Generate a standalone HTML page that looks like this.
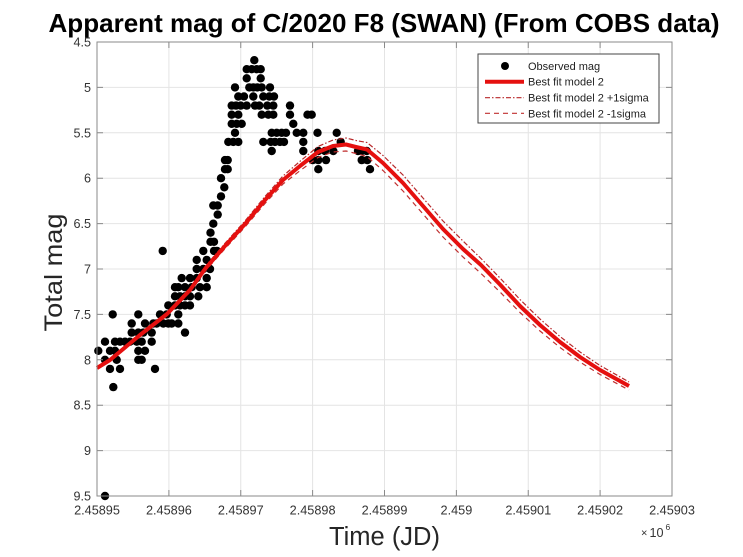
<!DOCTYPE html>
<html><head><meta charset="utf-8"><style>
html,body{margin:0;padding:0;background:#fff}
svg{display:block}
text{font-family:"Liberation Sans",Arial,sans-serif}
</style></head><body>
<svg width="743" height="557" viewBox="0 0 743 557" xmlns="http://www.w3.org/2000/svg">
<rect width="743" height="557" fill="#fff"/>
<!-- grid -->
<g stroke="#e4e4e4" stroke-width="1">
<line x1="168.9" y1="42" x2="168.9" y2="496"/><line x1="240.75" y1="42" x2="240.75" y2="496"/>
<line x1="312.6" y1="42" x2="312.6" y2="496"/><line x1="384.5" y1="42" x2="384.5" y2="496"/>
<line x1="456.4" y1="42" x2="456.4" y2="496"/><line x1="528.25" y1="42" x2="528.25" y2="496"/>
<line x1="600.1" y1="42" x2="600.1" y2="496"/>
<line x1="97" y1="87.4" x2="672" y2="87.4"/><line x1="97" y1="132.8" x2="672" y2="132.8"/>
<line x1="97" y1="178.2" x2="672" y2="178.2"/><line x1="97" y1="223.6" x2="672" y2="223.6"/>
<line x1="97" y1="269" x2="672" y2="269"/><line x1="97" y1="314.4" x2="672" y2="314.4"/>
<line x1="97" y1="359.8" x2="672" y2="359.8"/><line x1="97" y1="405.2" x2="672" y2="405.2"/>
<line x1="97" y1="450.6" x2="672" y2="450.6"/>
</g>
<!-- dots -->
<g fill="#000">
<circle cx="254.3" cy="60.2" r="4.2"/>
<circle cx="246.7" cy="69.2" r="4.2"/><circle cx="251.7" cy="69.2" r="4.2"/><circle cx="256.7" cy="69.2" r="4.2"/><circle cx="260.7" cy="69.2" r="4.2"/>
<circle cx="246.7" cy="78.3" r="4.2"/><circle cx="260.7" cy="78.3" r="4.2"/>
<circle cx="235" cy="87.4" r="4.2"/><circle cx="249.3" cy="87.4" r="4.2"/><circle cx="253.3" cy="87.4" r="4.2"/><circle cx="257.3" cy="87.4" r="4.2"/><circle cx="261.7" cy="87.4" r="4.2"/><circle cx="270" cy="87.4" r="4.2"/>
<circle cx="238.3" cy="96.5" r="4.2"/><circle cx="244" cy="96.5" r="4.2"/><circle cx="253.3" cy="96.5" r="4.2"/><circle cx="263.3" cy="96.5" r="4.2"/><circle cx="269.3" cy="96.5" r="4.2"/><circle cx="274" cy="96.5" r="4.2"/>
<circle cx="231.7" cy="105.6" r="4.2"/><circle cx="236" cy="105.6" r="4.2"/><circle cx="240.7" cy="105.6" r="4.2"/><circle cx="246.7" cy="105.6" r="4.2"/><circle cx="255" cy="105.6" r="4.2"/><circle cx="259.3" cy="105.6" r="4.2"/><circle cx="267.3" cy="105.6" r="4.2"/><circle cx="273.3" cy="105.6" r="4.2"/><circle cx="290" cy="105.6" r="4.2"/>
<circle cx="231.7" cy="114.7" r="4.2"/><circle cx="238.3" cy="114.7" r="4.2"/><circle cx="261.7" cy="114.7" r="4.2"/><circle cx="268.3" cy="114.7" r="4.2"/><circle cx="273.3" cy="114.7" r="4.2"/><circle cx="290" cy="114.7" r="4.2"/><circle cx="307.5" cy="114.7" r="4.2"/><circle cx="311.7" cy="114.7" r="4.2"/>
<circle cx="231.7" cy="123.8" r="4.2"/><circle cx="236.7" cy="123.8" r="4.2"/><circle cx="241.7" cy="123.8" r="4.2"/><circle cx="293.3" cy="123.8" r="4.2"/>
<circle cx="235" cy="132.8" r="4.2"/><circle cx="271.7" cy="132.8" r="4.2"/><circle cx="276.7" cy="132.8" r="4.2"/><circle cx="281.7" cy="132.8" r="4.2"/><circle cx="286" cy="132.8" r="4.2"/><circle cx="296.7" cy="132.8" r="4.2"/><circle cx="303.3" cy="132.8" r="4.2"/><circle cx="317.5" cy="132.8" r="4.2"/><circle cx="336.7" cy="132.8" r="4.2"/>
<circle cx="228.3" cy="141.9" r="4.2"/><circle cx="233.3" cy="141.9" r="4.2"/><circle cx="238.3" cy="141.9" r="4.2"/><circle cx="263.3" cy="141.9" r="4.2"/><circle cx="270.7" cy="141.9" r="4.2"/><circle cx="275" cy="141.9" r="4.2"/><circle cx="280" cy="141.9" r="4.2"/><circle cx="284" cy="141.9" r="4.2"/><circle cx="303.3" cy="141.9" r="4.2"/><circle cx="340.7" cy="141.9" r="4.2"/>
<circle cx="271.7" cy="151" r="4.2"/><circle cx="303.3" cy="151" r="4.2"/><circle cx="318.3" cy="151" r="4.2"/><circle cx="325" cy="151" r="4.2"/><circle cx="333.3" cy="151" r="4.2"/><circle cx="358" cy="151" r="4.2"/><circle cx="361.7" cy="151" r="4.2"/><circle cx="366.7" cy="151" r="4.2"/>
<circle cx="225" cy="160.1" r="4.2"/><circle cx="227.7" cy="160.1" r="4.2"/><circle cx="312.7" cy="160.1" r="4.2"/><circle cx="318.3" cy="160.1" r="4.2"/><circle cx="326" cy="160.1" r="4.2"/><circle cx="361.7" cy="160.1" r="4.2"/><circle cx="367.3" cy="160.1" r="4.2"/>
<circle cx="225" cy="169.2" r="4.2"/><circle cx="227.7" cy="169.2" r="4.2"/><circle cx="318.3" cy="169.2" r="4.2"/><circle cx="370" cy="169.2" r="4.2"/>
<circle cx="221" cy="178.2" r="4.2"/>
<circle cx="224.3" cy="187.3" r="4.2"/>
<circle cx="221" cy="196.4" r="4.2"/>
<circle cx="213.3" cy="205.5" r="4.2"/><circle cx="217.7" cy="205.5" r="4.2"/>
<circle cx="217.7" cy="214.6" r="4.2"/>
<circle cx="213.3" cy="223.7" r="4.2"/>
<circle cx="210.5" cy="232.7" r="4.2"/>
<circle cx="210.5" cy="241.8" r="4.2"/><circle cx="214" cy="241.8" r="4.2"/>
<circle cx="162.7" cy="250.9" r="4.2"/><circle cx="203.3" cy="250.9" r="4.2"/><circle cx="214" cy="250.9" r="4.2"/><circle cx="217" cy="250.9" r="4.2"/>
<circle cx="196.7" cy="259.9" r="4.2"/><circle cx="206.7" cy="259.9" r="4.2"/>
<circle cx="196.7" cy="269" r="4.2"/><circle cx="203.3" cy="269" r="4.2"/><circle cx="210" cy="269" r="4.2"/>
<circle cx="181.7" cy="278.1" r="4.2"/><circle cx="190" cy="278.1" r="4.2"/><circle cx="196.7" cy="278.1" r="4.2"/><circle cx="206.7" cy="278.1" r="4.2"/>
<circle cx="175" cy="287.2" r="4.2"/><circle cx="178.3" cy="287.2" r="4.2"/><circle cx="185" cy="287.2" r="4.2"/><circle cx="191.7" cy="287.2" r="4.2"/><circle cx="200" cy="287.2" r="4.2"/><circle cx="206.7" cy="287.2" r="4.2"/>
<circle cx="175" cy="296.3" r="4.2"/><circle cx="180" cy="296.3" r="4.2"/><circle cx="185" cy="296.3" r="4.2"/><circle cx="190" cy="296.3" r="4.2"/><circle cx="198.3" cy="296.3" r="4.2"/>
<circle cx="168.3" cy="305.4" r="4.2"/><circle cx="175" cy="305.4" r="4.2"/><circle cx="180" cy="305.4" r="4.2"/><circle cx="185" cy="305.4" r="4.2"/><circle cx="190" cy="305.4" r="4.2"/>
<circle cx="112.7" cy="314.4" r="4.2"/><circle cx="138.3" cy="314.4" r="4.2"/><circle cx="160" cy="314.4" r="4.2"/><circle cx="166.7" cy="314.4" r="4.2"/><circle cx="178.3" cy="314.4" r="4.2"/>
<circle cx="131.7" cy="323.5" r="4.2"/><circle cx="145" cy="323.5" r="4.2"/><circle cx="153.3" cy="323.5" r="4.2"/><circle cx="156.7" cy="323.5" r="4.2"/><circle cx="163.3" cy="323.5" r="4.2"/><circle cx="168.3" cy="323.5" r="4.2"/><circle cx="171.7" cy="323.5" r="4.2"/><circle cx="178.3" cy="323.5" r="4.2"/>
<circle cx="131.7" cy="332.6" r="4.2"/><circle cx="138.3" cy="332.6" r="4.2"/><circle cx="143.3" cy="332.6" r="4.2"/><circle cx="151.7" cy="332.6" r="4.2"/><circle cx="185" cy="332.6" r="4.2"/>
<circle cx="105" cy="341.7" r="4.2"/><circle cx="115" cy="341.7" r="4.2"/><circle cx="120" cy="341.7" r="4.2"/><circle cx="125" cy="341.7" r="4.2"/><circle cx="130" cy="341.7" r="4.2"/><circle cx="136.7" cy="341.7" r="4.2"/><circle cx="141.7" cy="341.7" r="4.2"/><circle cx="151.7" cy="341.7" r="4.2"/>
<circle cx="98.3" cy="350.8" r="4.2"/><circle cx="110" cy="350.8" r="4.2"/><circle cx="115" cy="350.8" r="4.2"/><circle cx="138.3" cy="350.8" r="4.2"/><circle cx="145" cy="350.8" r="4.2"/>
<circle cx="105" cy="359.8" r="4.2"/><circle cx="116.7" cy="359.8" r="4.2"/><circle cx="138.3" cy="359.8" r="4.2"/><circle cx="141.7" cy="359.8" r="4.2"/>
<circle cx="110" cy="368.9" r="4.2"/><circle cx="120" cy="368.9" r="4.2"/><circle cx="155" cy="368.9" r="4.2"/>
<circle cx="113.3" cy="387.1" r="4.2"/>
<circle cx="105" cy="496" r="4.2"/>
</g>
<!-- fit curves -->
<polyline fill="none" stroke="#b8282a" stroke-width="1.2" stroke-dasharray="5,2,1.5,2" stroke-linejoin="round" points="97,367.5 110,359.3 140,334 167,312.5 190,288 205,266.7 225,243.3 245,221 265,196.5 283,176 300,161.3 318,146.5 333,140 346,138 356,140.5 367,142.5 383,155.5 403,175 423,198 443,221 463,241 481,258.5 500,278 520,299.5 540,319 560,336.5 580,352 600,365.5 629,382"/>
<polyline fill="none" stroke="#c03030" stroke-width="1.2" stroke-dasharray="5,4" stroke-linejoin="round" points="97,368.5 110,360.7 140,336 167,315.5 190,292 205,271.3 225,248.7 245,227 265,203.5 283,184 300,170.7 318,157.5 333,152 346,151 356,153.5 367,156.5 383,170.5 403,191 423,214 443,237 463,257 481,273.5 500,292 520,312.5 540,331 560,347.5 580,362 600,374.5 629,390"/>
<polyline fill="none" stroke="#e5100f" stroke-width="4" stroke-linejoin="round" points="97,368 110,360 140,335 167,314 190,290 205,269 225,246 245,224 265,200 283,180 300,166 318,152 333,146 346,144.5 356,147 367,149.5 383,163 403,183 423,206 443,229 463,249 481,265 500,284.5 520,306 540,325 560,342 580,357 600,370 629,386"/>
<!-- axes box -->
<rect x="97" y="42" width="575" height="454" fill="none" stroke="#8a8a8a" stroke-width="1"/>
<g stroke="#8a8a8a" stroke-width="1">
<path d="M97 42h6M97 87.4h6M97 132.8h6M97 178.2h6M97 223.6h6M97 269h6M97 314.4h6M97 359.8h6M97 405.2h6M97 450.6h6M97 496h6"/>
<path d="M672 42h-6M672 87.4h-6M672 132.8h-6M672 178.2h-6M672 223.6h-6M672 269h-6M672 314.4h-6M672 359.8h-6M672 405.2h-6M672 450.6h-6M672 496h-6"/>
<path d="M97 496v-6M168.9 496v-6M240.75 496v-6M312.6 496v-6M384.5 496v-6M456.4 496v-6M528.25 496v-6M600.1 496v-6M672 496v-6"/>
<path d="M97 42v6M168.9 42v6M240.75 42v6M312.6 42v6M384.5 42v6M456.4 42v6M528.25 42v6M600.1 42v6M672 42v6"/>
</g>
<!-- y tick labels -->
<g font-size="12.6" fill="#333" text-anchor="end">
<text x="91" y="46.5">4.5</text><text x="91" y="91.9">5</text><text x="91" y="137.3">5.5</text>
<text x="91" y="182.7">6</text><text x="91" y="228.1">6.5</text><text x="91" y="273.5">7</text>
<text x="91" y="318.9">7.5</text><text x="91" y="364.3">8</text><text x="91" y="409.7">8.5</text>
<text x="91" y="455.1">9</text><text x="91" y="500.5">9.5</text>
</g>
<!-- x tick labels -->
<g font-size="12.7" fill="#333" text-anchor="middle">
<text x="97" y="514.3">2.45895</text><text x="168.9" y="514.3">2.45896</text><text x="240.75" y="514.3">2.45897</text>
<text x="312.6" y="514.3">2.45898</text><text x="384.5" y="514.3">2.45899</text><text x="456.4" y="514.3">2.459</text>
<text x="528.25" y="514.3">2.45901</text><text x="600.1" y="514.3">2.45902</text><text x="672" y="514.3">2.45903</text>
</g>
<text x="641" y="536.5" font-size="11" fill="#333">×</text>
<text x="649.5" y="537" font-size="12.6" fill="#333">10</text>
<text x="665.5" y="530" font-size="8.5" fill="#333">6</text>
<!-- axis labels -->
<text x="384.5" y="545" font-size="25.5" fill="#262626" text-anchor="middle">Time (JD)</text>
<text transform="translate(62,272.5) rotate(-90)" x="0" y="0" font-size="25" fill="#262626" text-anchor="middle" textLength="118" lengthAdjust="spacingAndGlyphs">Total mag</text>
<!-- title -->
<text x="384" y="32" font-size="26" font-weight="bold" fill="#000" text-anchor="middle" textLength="671" lengthAdjust="spacingAndGlyphs">Apparent mag of C/2020 F8 (SWAN) (From COBS data)</text>
<!-- legend -->
<rect x="478" y="54" width="181" height="69" fill="#fff" stroke="#444" stroke-width="1"/>
<circle cx="505" cy="66" r="4" fill="#000"/>
<line x1="485" y1="81.7" x2="524" y2="81.7" stroke="#e5100f" stroke-width="4"/>
<line x1="485" y1="97.7" x2="524" y2="97.7" stroke="#b8282a" stroke-width="1.2" stroke-dasharray="5,2,1.5,2"/>
<line x1="485" y1="113.3" x2="524" y2="113.3" stroke="#c03030" stroke-width="1.2" stroke-dasharray="5,4"/>
<g font-size="11" fill="#222">
<text x="528" y="70">Observed mag</text>
<text x="528" y="85.7">Best fit model 2</text>
<text x="528" y="101.7">Best fit model 2 +1sigma</text>
<text x="528" y="117.3">Best fit model 2 -1sigma</text>
</g>
</svg>
</body></html>
